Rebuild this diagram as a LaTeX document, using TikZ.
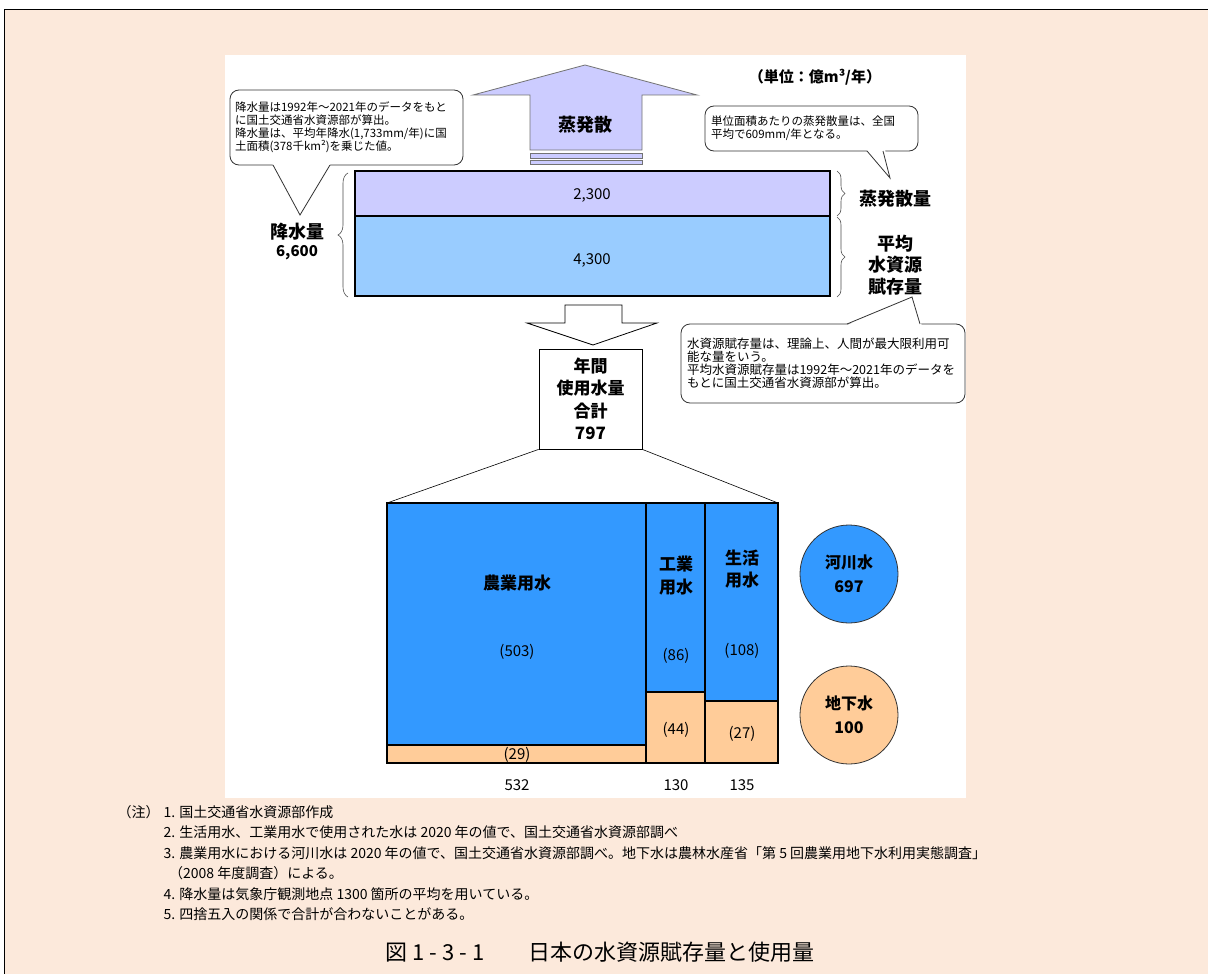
\documentclass[tikz,border=0pt]{standalone}
\usepackage{fontspec}
\setmainfont{Noto Sans CJK JP}
\usetikzlibrary{decorations.pathreplacing}
\definecolor{peach}{RGB}{252,233,219}
\definecolor{lavender}{RGB}{204,204,255}
\definecolor{paleblue}{RGB}{153,204,255}
\definecolor{riverblue}{RGB}{51,153,255}
\definecolor{groundorange}{RGB}{255,204,153}
\tikzset{callbox/.style={draw=black!80, fill=white, rounded corners=9pt, line width=0.8pt, inner xsep=5pt, inner ysep=0pt, align=left},
%bold labels beside the boxes
biglabel/.style={font=\bfseries\fontsize{18}{22}\selectfont, align=center},
value/.style={font=\fontsize{15}{18}\selectfont},
bar/.style={draw=black, line width=1.6pt},
curly/.style={decorate, decoration={brace, amplitude=8pt}, draw=black!70, line width=0.6pt},
noteline/.style={anchor=west, font=\fontsize{14}{16}\selectfont}}

\begin{document}
\begin{tikzpicture}[x=1pt, y=-1pt]

    \useasboundingbox (0,0) rectangle (1208,974);
    \fill[white] (0,0) rectangle (1208,974);
    \fill[peach] (4,10) rectangle (1208,974);
    \draw[line width=1pt] (4,1000) -- (4,10) -- (1230,10);
    \fill[white] (225,55) rectangle (966,798);

    % evaporation arrow
    \draw[draw=black!55, fill=lavender, line width=0.8pt] (530,150) -- (530,95) -- (473,95) -- (585,65)
        -- (697,95) -- (642,95) -- (642,150) -- cycle;
    \draw[draw=black!55, fill=lavender, line width=0.8pt] (530,153) rectangle (642,158);
    \draw[draw=black!55, fill=lavender, line width=0.8pt] (530,160) rectangle (642,164);
    \node[biglabel] (evap) at (585,125) {蒸発散};
    \node[font=\bfseries\fontsize{15}{18}\selectfont] (unit) at (815,77) {（単位：億m³/年）};

    % precipitation boxes
    \coordinate (0) at (355,171);
    \coordinate (1) at (830,216);
    \coordinate (2) at (355,216);
    \coordinate (3) at (830,296);
    \draw[fill=lavender, line width=1.8pt] (0) rectangle (1);
    \draw[fill=paleblue, line width=1.8pt] (2) rectangle (3);
    \node[value] (evapval) at (592,195) {2,300};
    \node[value] (resval) at (592,260) {4,300};

    \draw[curly, decoration={amplitude=10pt}] (348,297) -- (348,173);
    \draw[curly] (837,171) -- (837,216);
    \draw[curly] (837,217) -- (837,297);
    \node[biglabel] (rain) at (297,232) {降水量};
    \node[font=\bfseries\fontsize{15}{18}\selectfont] (rainval) at (297,253) {6,600};
    \node[biglabel] (evaplabel) at (895,199) {蒸発散量};
    \node[biglabel, font=\bfseries\fontsize{18}{21.5}\selectfont] (reslabel) at (895,265) {平均\\水資源\\賦存量};

    % callouts
    \node[callbox, minimum width=233pt, minimum height=75pt, text width=223pt,
        font=\fontsize{11.5}{13}\selectfont] (rainnote) at (346.5,127.5)
        {降水量は1992年～2021年のデータをもと\\に国土交通省水資源部が算出。\\降水量は、平均年降水(1,733mm/年)に国\\土面積(378千km²)を乗じた値。};
    \fill[white] (272,163) -- (331,163) -- (300,215) -- cycle;
    \draw[black!80, line width=0.8pt] (273,165) -- (300,215) -- (330,165);

    \node[callbox, minimum width=213pt, minimum height=45pt, text width=201pt,
        font=\fontsize{11.5}{13}\selectfont] (evapnote) at (811.5,128.5)
        {単位面積あたりの蒸発散量は、全国\\平均で609mm/年となる。};
    \fill[white] (866,149) -- (885,149) -- (890,178) -- cycle;
    \draw[black!80, line width=0.8pt] (867,151) -- (890,178) -- (883,151);

    \node[callbox, minimum width=284pt, minimum height=79pt, text width=272pt,
        font=\fontsize{12.5}{13}\selectfont] (resnote) at (823,363.5)
        {水資源賦存量は、理論上、人間が最大限利用可\\能な量をいう。\\平均水資源賦存量は1992年～2021年のデータを\\もとに国土交通省水資源部が算出。};
    \fill[white] (845,326) -- (922,326) -- (912,297) -- cycle;
    \draw[black!80, line width=0.8pt] (847,324) -- (912,297) -- (920,324);

    % use of water
    \draw[fill=white, line width=0.8pt] (565,305) -- (622,305) -- (622,323) -- (657,323) -- (593,345)
        -- (527,323) -- (565,323) -- cycle;
    \node[draw, fill=white, line width=0.8pt, minimum width=103pt, minimum height=100pt, align=center,
        font=\bfseries\fontsize{17}{22.5}\selectfont] (total) at (590.5,399) {年間\\使用水量\\合計\\797};

    \coordinate (4) at (387,503);
    \coordinate (5) at (778,503);
    \draw[line width=0.6pt] (total.south west) -- (4);
    \draw[line width=0.6pt] (total.south east) -- (5);

    \draw[bar, fill=riverblue] (387,503) rectangle (646,745);
    \draw[bar, fill=groundorange] (387,745) rectangle (646,763);
    \draw[bar, fill=riverblue] (646,503) rectangle (705,692);
    \draw[bar, fill=groundorange] (646,692) rectangle (705,763);
    \draw[bar, fill=riverblue] (705,503) rectangle (778,701);
    \draw[bar, fill=groundorange] (705,701) rectangle (778,763);

    \node[biglabel, font=\bfseries\fontsize{17}{22}\selectfont] (agri) at (517,583) {農業用水};
    \node[biglabel, font=\bfseries\fontsize{17}{23}\selectfont] (ind) at (676,576) {工業\\用水};
    \node[biglabel, font=\bfseries\fontsize{17}{22}\selectfont] (dom) at (742,569) {生活\\用水};
    \foreach \x/\y/\t [count=\i] in {517/652/(503), 517/755/(29), 676/656/(86), 676/730/(44),
        742/651/(108), 742/734/(27), 517/785/532, 676/785/130, 742/785/135}
        \node[value] (num\i) at (\x,\y) {\t};

    \node[circle, draw=black!80, fill=riverblue, line width=0.8pt, minimum size=98pt, align=center,
        font=\bfseries\fontsize{16}{24}\selectfont] (river) at (849,574) {河川水\\697};
    \node[circle, draw=black!80, fill=groundorange, line width=0.8pt, minimum size=98pt, align=center,
        font=\bfseries\fontsize{16}{24}\selectfont] (ground) at (849,715) {地下水\\100};

    % notes
    \node[noteline] (n0) at (114,812) {（注）};
    \foreach \y/\t [count=\i] in {812/{1. 国土交通省水資源部作成},
        832.5/{2. 生活用水、工業用水で使用された水は 2020 年の値で、国土交通省水資源部調べ},
        853/{3. 農業用水における河川水は 2020 年の値で、国土交通省水資源部調べ。地下水は農林水産省「第 5 回農業用地下水利用実態調査」},
        873.5/{\hspace*{0.4em}（2008 年度調査）による。},
        894/{4. 降水量は気象庁観測地点 1300 箇所の平均を用いている。},
        914.5/{5. 四捨五入の関係で合計が合わないことがある。}}
        \node[noteline] (n\i) at (160,\y) {\t};

    \node[font=\fontsize{22}{26}\selectfont] (title) at (600,952) {図 1 - 3 - 1　　日本の水資源賦存量と使用量};

\end{tikzpicture}
\end{document}
